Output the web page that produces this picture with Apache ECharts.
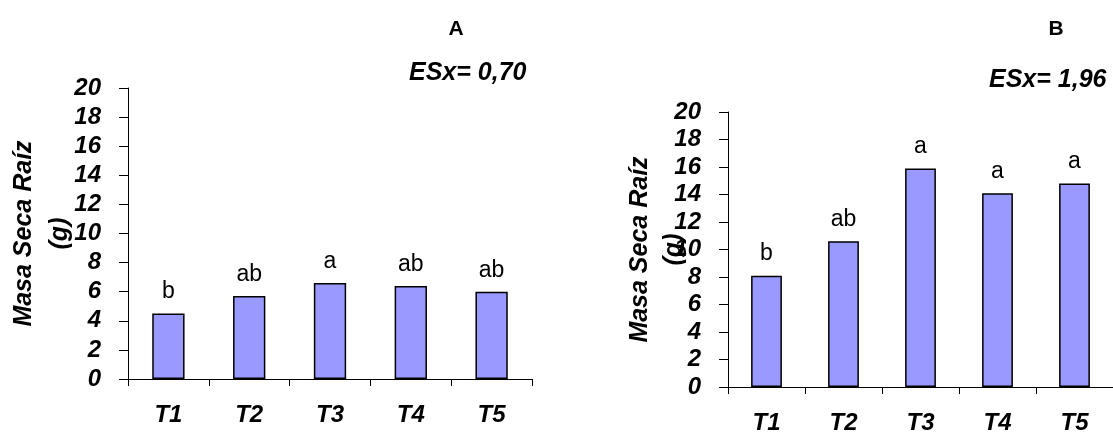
<!DOCTYPE html>
<html>
<head>
<meta charset="utf-8">
<script src="https://cdn.jsdelivr.net/npm/echarts@6/dist/echarts.min.js"></script>
<style>
  html, body { margin: 0; padding: 0; background: #fff; }
  #chart { width: 1113px; height: 435px; }
</style>
</head>
<body>
<div id="chart"></div>
<script>
// Treatments and root dry mass (g) for the two trials
const categories = ['T1', 'T2', 'T3', 'T4', 'T5'];
const massA = [4.5, 5.7, 6.6, 6.4, 6.0];
const massB = [8.1, 10.6, 15.9, 14.1, 14.8];
// Significance letters shown above each bar
const lettersA = ['b', 'ab', 'a', 'ab', 'ab'];
const lettersB = ['b', 'ab', 'a', 'a', 'a'];
// Panel headings and standard error notes
const panelTitles = ['A', 'B'];
const seNotes = ['ESx= 0,70', 'ESx= 1,96'];
const yName = 'Masa Seca Raíz\n(g)';
const yMin = 0, yMax = 20, yStep = 2;

const FONT = '"Liberation Sans", Arial, sans-serif';
const boldItalic = { fontFamily: FONT, fontWeight: 'bold', fontStyle: 'italic', color: '#000' };

function xAxisFor(gridIndex) {
  return {
    type: 'category', gridIndex, data: categories,
    axisLine: { lineStyle: { color: '#000', width: 1 } },
    axisTick: { show: true, length: 7, lineStyle: { color: '#000', width: 1 } },
    axisLabel: Object.assign({ fontSize: 24, margin: 24 }, boldItalic)
  };
}

function yAxisFor(gridIndex, nameGap, lineHeight) {
  return {
    type: 'value', gridIndex, min: yMin, max: yMax, interval: yStep,
    name: yName, nameLocation: 'middle', nameRotate: 90, nameGap,
    nameMoveOverlap: false,
    nameTextStyle: Object.assign({ fontSize: 25, lineHeight, align: 'center' }, boldItalic),
    axisLine: { show: true, lineStyle: { color: '#000', width: 1 } },
    axisTick: { show: true, length: 9, lineStyle: { color: '#000', width: 1 } },
    axisLabel: Object.assign({ fontSize: 24, margin: 27 }, boldItalic),
    splitLine: { show: false }
  };
}

function barSeries(idx, values, letters) {
  return {
    type: 'bar', xAxisIndex: idx, yAxisIndex: idx,
    data: values, barWidth: '40%',
    itemStyle: { color: '#9999FF', borderColor: '#000', borderWidth: 1.5 },
    label: {
      show: true, position: 'top', distance: 10,
      formatter: p => letters[p.dataIndex],
      fontFamily: FONT, fontSize: 23, color: '#000'
    },
    animation: false
  };
}

const chart = echarts.init(document.getElementById('chart'), null, { renderer: 'canvas' });
chart.setOption({
  backgroundColor: '#fff',
  animation: false,
  grid: [
    { left: 128, right: 581, top: 88, bottom: 56 },
    { left: 728, right: -8, top: 112, bottom: 45 }
  ],
  xAxis: [xAxisFor(0), xAxisFor(1)],
  yAxis: [yAxisFor(0, 50, 36), yAxisFor(1, 37, 34)],
  series: [barSeries(0, massA, lettersA), barSeries(1, massB, lettersB)],
  graphic: [
    { type: 'text', x: 456, y: 29, style: { text: panelTitles[0], fontFamily: FONT, fontWeight: 'bold', fontSize: 21, fill: '#000', align: 'center', verticalAlign: 'middle' } },
    { type: 'text', x: 1056, y: 29, style: { text: panelTitles[1], fontFamily: FONT, fontWeight: 'bold', fontSize: 21, fill: '#000', align: 'center', verticalAlign: 'middle' } },
    { type: 'text', x: 409, y: 73, style: { text: seNotes[0], fontFamily: FONT, fontWeight: 'bold', fontStyle: 'italic', fontSize: 25, fill: '#000', align: 'left', verticalAlign: 'middle' } },
    { type: 'text', x: 989, y: 80, style: { text: seNotes[1], fontFamily: FONT, fontWeight: 'bold', fontStyle: 'italic', fontSize: 25, fill: '#000', align: 'left', verticalAlign: 'middle' } }
  ]
});
</script>
</body>
</html>
